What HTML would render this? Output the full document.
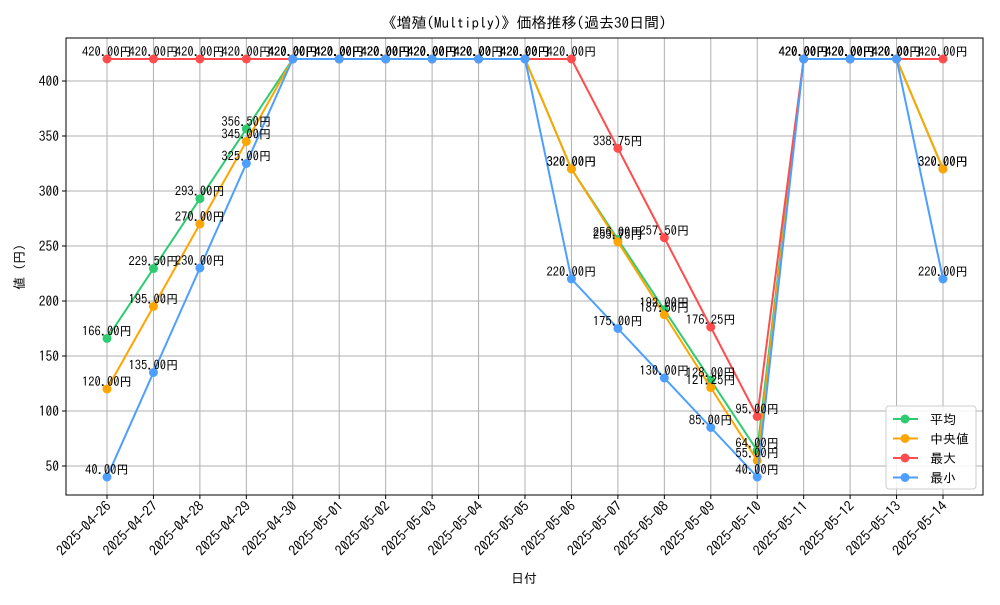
<!DOCTYPE html>
<html><head><meta charset="utf-8"><style>
body{margin:0;background:#fff}
svg text{font-family:"IPAGothic","Liberation Sans",sans-serif;fill:#000}
</style></head><body>
<svg id="c" width="1000" height="600" xmlns="http://www.w3.org/2000/svg">
<rect width="1000" height="600" fill="#fff"/>
<text x="524" y="28" font-size="15" text-anchor="middle">《増殖(Multiply)》価格推移(過去30日間)</text>
<g id="grid"></g><g id="series"></g><g id="labels"></g>
<rect x="66" y="38" width="917" height="457" fill="none" stroke="#000" stroke-width="1"/>
<text x="524" y="583" font-size="13" text-anchor="middle">日付</text>
<text x="24" y="267" font-size="13" text-anchor="middle" transform="rotate(-90 24 267)">値 (円)</text>
<g id="legend">
<rect x="886" y="406" width="90" height="83" rx="3" fill="#fff" fill-opacity="0.85" stroke="#ccc"/>
</g>
</svg>
<script>
const dates=["2025-04-26","2025-04-27","2025-04-28","2025-04-29","2025-04-30","2025-05-01","2025-05-02","2025-05-03","2025-05-04","2025-05-05","2025-05-06","2025-05-07","2025-05-08","2025-05-09","2025-05-10","2025-05-11","2025-05-12","2025-05-13","2025-05-14"];
const avgVals=[166,229.5,293,356.5,420,420,420,420,420,420,320,256,192,128,64,420,420,420,320];
const medVals=[120,195,270,345,420,420,420,420,420,420,320,253.75,187.5,121.25,55,420,420,420,320];
const maxVals=[420,420,420,420,420,420,420,420,420,420,420,338.75,257.5,176.25,95,420,420,420,420];
const minVals=[40,135,230,325,420,420,420,420,420,420,220,175,130,85,40,420,420,420,220];
const yTicks=[50,100,150,200,250,300,350,400];
const seriesNames=["平均","中央値","最大","最小"];
const colors=["#2ecc71","#ffa500","#ff4d4d","#4d9fff"];
const NS="http://www.w3.org/2000/svg";
const X=i=>107+i*(943-107)/(dates.length-1);
const Y=v=>466-(v-50)*1.1;
function mk(t,a,p){const e=document.createElementNS(NS,t);for(const k in a)e.setAttribute(k,a[k]);p.appendChild(e);return e;}
const grid=document.getElementById('grid'),ser=document.getElementById('series'),lab=document.getElementById('labels'),leg=document.getElementById('legend');
dates.forEach((d,i)=>{
 const l=mk('line',{x1:X(i),x2:X(i),y1:38,y2:495,stroke:'#b0b0b0','stroke-width':1},grid);
 
 
 mk('line',{x1:X(i),x2:X(i),y1:495,y2:499,stroke:'#000'},grid);
 const t=mk('text',{x:X(i)+5,y:507,'font-size':14,'text-anchor':'end',transform:`rotate(-45 ${X(i)+5} 507)`},grid);
 t.textContent=d;
 
 
});
yTicks.forEach(v=>{
 const l=mk('line',{x1:66,x2:983,y1:Y(v),y2:Y(v),stroke:'#b0b0b0','stroke-width':1},grid);
 
 
 mk('line',{x1:62,x2:66,y1:Y(v),y2:Y(v),stroke:'#000'},grid);
 const t=mk('text',{x:59,y:Y(v)+5,'font-size':13.5,'text-anchor':'end'},grid);
 t.textContent=v;
 
 
});
[avgVals,medVals,maxVals,minVals].forEach((vals,s)=>{
 const pl=mk('polyline',{points:vals.map((v,i)=>X(i)+','+Y(v)).join(' '),fill:'none',stroke:colors[s],'stroke-width':2},ser);
 
 
 vals.forEach((v,i)=>{
  const c=mk('circle',{cx:X(i),cy:Y(v),r:4.5,fill:colors[s]},ser);
  
  
  const t=mk('text',{x:X(i),y:Y(v)-3,'font-size':12.5,'text-anchor':'middle'},lab);
  t.textContent=v.toFixed(2)+'円';
  
  
 });
 const ly=419+s*19.5;
 mk('line',{x1:893,x2:918,y1:ly,y2:ly,stroke:colors[s],'stroke-width':2},leg);
 mk('circle',{cx:905,cy:ly,r:4.5,fill:colors[s]},leg);
 const t=mk('text',{x:930,y:ly+5,'font-size':13},leg);
 t.textContent=seriesNames[s];
 
 
});
</script>
</body></html>
